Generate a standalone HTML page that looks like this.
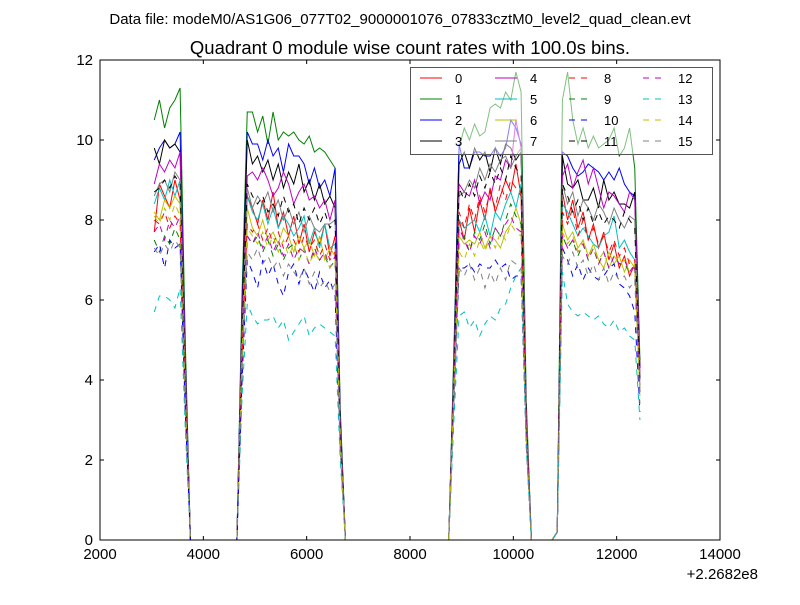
<!DOCTYPE html>
<html><head><meta charset="utf-8">
<style>
body{margin:0;background:#fff;}
svg text{font-family:"Liberation Sans","DejaVu Sans",sans-serif;}
</style></head>
<body>
<svg id="chart" width="800" height="600" xmlns="http://www.w3.org/2000/svg">
<rect x="0" y="0" width="800" height="600" fill="#fff"/>
<text x="400" y="24" font-size="15" text-anchor="middle">Data file: modeM0/AS1G06_077T02_9000001076_07833cztM0_level2_quad_clean.evt</text>
<text x="410" y="54" font-size="18.5" text-anchor="middle">Quadrant 0 module wise count rates with 100.0s bins.</text>
<g id="plot"></g>
</svg>
<script>
const tStart = 3050, binSize = 100;
const Z10=[0,0,0,0,0,0,0,0,0,0], Z20=[0,0,0,0,0,0,0,0,0,0,0,0,0,0,0,0,0,0,0,0,0], Z5=[0,0,0,0,0];
const s0=[7.7,8.9,8.6,8.3,9.0,8.5,3.8,...Z10,5.0,8.6,8.3,7.9,8.5,8.0,8.7,7.8,8.2,7.6,8.1,7.4,7.9,7.2,7.7,7.4,7.9,7.1,7.6,2.8,...Z20,4.2,8.0,7.5,8.3,7.7,8.5,8.0,8.8,8.2,8.6,9.0,8.7,9.4,8.6,2.6,...Z5,0.2,8.7,8.0,8.5,7.8,8.2,7.5,7.9,7.3,7.7,7.0,7.4,6.8,7.1,6.6,6.9,4.0];
const s1=[10.5,11.0,10.3,10.8,11.0,11.3,5.0,...Z10,6.2,10.7,10.7,10.2,10.6,9.9,10.7,10.0,10.2,10.1,10.2,10.0,9.9,10.1,9.7,9.8,9.7,9.5,9.3,3.3,...Z20,4.8,9.8,10.3,10.0,10.4,10.1,10.2,10.8,10.9,10.8,11.2,11.0,11.7,11.2,3.5,...Z5,0.2,11.0,11.7,10.5,9.9,10.3,9.8,10.1,9.8,9.9,10.0,10.3,9.6,9.8,10.3,9.3,4.5];
const s2=[9.5,9.8,10.0,9.8,9.9,10.2,4.6,...Z10,5.8,10.2,9.9,9.9,9.5,10.0,9.6,9.8,9.2,9.9,9.6,9.6,9.4,8.9,9.3,8.8,9.0,8.6,9.3,3.1,...Z20,4.5,9.9,9.3,9.3,9.7,9.7,9.6,9.6,9.8,9.6,9.8,10.5,10.3,9.9,3.1,...Z5,0.2,9.7,9.6,9.3,9.1,9.2,9.4,9.3,9.2,9.0,9.2,9.0,9.3,8.9,8.7,8.6,4.3];
const s3=[9.8,9.4,10.0,9.8,9.9,9.7,4.5,...Z10,5.6,10.0,9.4,9.6,9.2,9.5,9.0,9.4,8.8,9.2,8.9,9.4,8.7,9.0,8.5,8.9,8.4,8.6,8.3,3.0,...Z20,4.4,9.4,9.7,9.3,9.8,9.5,9.7,9.2,9.8,9.4,9.9,9.8,9.5,9.7,3.1,...Z5,0.2,9.6,8.9,8.8,9.0,8.5,8.5,8.8,8.3,9.0,8.5,8.7,8.4,8.4,8.3,8.7,4.3];
const s4=[8.9,9.4,9.2,9.5,9.3,9.7,4.4,...Z10,5.4,9.1,9.2,9.0,9.3,9.0,8.6,8.8,9.2,8.9,8.4,8.7,8.9,8.5,8.6,8.3,8.5,8.0,8.5,2.9,...Z20,4.3,8.9,8.7,8.6,9.0,8.4,8.7,8.5,9.1,9.0,9.5,9.3,10.5,9.8,3.2,...Z5,0.2,9.1,9.4,8.8,9.2,9.5,8.9,9.3,8.8,8.3,8.7,8.6,8.4,8.2,8.7,8.5,4.2];
const s5=[8.4,8.8,8.5,9.0,8.6,9.0,4.0,...Z10,5.0,8.6,8.2,8.0,8.4,7.9,8.3,7.8,8.1,7.9,7.6,7.8,8.1,7.4,7.8,7.3,7.9,7.3,7.4,2.7,...Z20,4.0,8.0,7.8,7.9,8.0,7.7,8.1,7.6,8.2,8.0,8.4,8.7,8.3,8.9,2.9,...Z5,0.2,8.4,8.2,7.9,7.6,7.8,7.6,7.4,7.3,7.6,7.7,8.1,7.3,7.5,7.2,7.0,3.8];
const s6=[8.2,8.0,8.5,8.3,8.6,8.4,3.8,...Z10,4.8,8.3,7.8,7.6,8.0,7.5,7.7,7.4,7.8,7.6,7.2,7.6,7.3,7.5,7.1,7.6,7.0,7.3,7.1,2.5,...Z20,3.8,7.6,7.4,7.5,7.4,7.7,7.3,7.6,7.5,7.3,7.7,7.9,8.3,7.9,2.7,...Z5,0.2,7.9,7.5,7.7,7.3,7.5,7.1,7.4,7.0,6.8,7.2,6.9,7.1,6.7,7.0,6.8,3.7];
const s7=[8.6,8.9,9.0,8.7,9.2,9.0,4.1,...Z10,5.2,8.8,8.3,8.6,8.4,8.7,8.2,8.5,8.0,8.3,7.9,8.2,7.7,8.1,7.8,7.7,7.9,7.9,8.0,2.8,...Z20,4.2,8.6,8.7,9.0,8.8,9.3,9.0,9.4,9.2,9.5,9.6,9.3,9.6,9.8,3.0,...Z5,0.2,8.9,8.4,8.7,8.1,8.5,8.3,8.0,8.4,8.2,7.9,8.3,8.0,7.8,8.1,8.0,4.0];
const s8=[8.0,7.9,8.2,7.8,8.1,7.9,3.6,...Z10,4.6,7.9,7.7,7.9,7.5,7.8,7.4,7.7,7.3,7.6,7.5,7.2,7.6,7.3,7.5,7.1,7.4,7.0,7.2,2.5,...Z20,3.9,8.2,7.8,8.4,8.0,8.6,8.2,8.7,8.3,8.9,8.5,9.0,8.8,8.6,2.8,...Z5,0.2,8.2,7.9,8.3,7.6,8.0,7.5,7.8,7.4,7.6,7.2,7.5,7.1,7.3,6.9,7.0,3.8];
const s9=[7.5,7.2,7.6,7.4,7.8,7.5,3.4,...Z10,4.4,7.6,7.4,7.6,7.2,7.5,7.1,7.4,7.0,7.3,7.4,7.0,7.3,6.9,7.2,7.0,7.1,6.8,7.0,2.4,...Z20,3.7,7.4,7.6,7.2,7.7,7.5,7.9,7.4,7.8,7.6,8.0,8.4,8.1,7.9,2.6,...Z5,0.2,7.6,7.3,7.5,7.1,7.4,7.0,7.3,6.9,7.2,6.8,7.1,6.9,6.9,6.7,6.8,3.6];
const s10=[7.2,7.4,6.8,7.5,7.3,7.4,3.2,...Z10,4.0,7.0,6.7,6.3,7.0,6.6,6.9,6.4,6.1,6.7,6.9,6.4,6.8,6.5,6.2,6.7,6.3,6.5,6.1,2.2,...Z20,3.4,6.8,6.8,6.9,6.7,6.9,6.8,6.8,7.0,6.8,6.9,6.5,6.6,6.6,2.4,...Z5,0.2,7.3,7.0,6.6,6.9,6.5,6.8,6.6,6.5,6.6,6.8,6.9,6.4,6.3,6.1,5.7,3.2];
const s11=[8.7,8.8,9.0,8.8,9.1,8.9,4.0,...Z10,5.0,8.9,8.6,8.4,8.6,8.2,8.4,8.1,8.6,8.2,8.4,7.9,8.3,8.0,8.3,7.9,8.2,7.8,8.0,2.7,...Z20,4.0,8.8,8.5,8.9,8.6,9.1,8.8,9.2,8.9,9.3,9.0,9.6,9.3,9.1,2.9,...Z5,0.2,8.9,8.6,8.2,8.5,8.0,8.3,7.9,8.2,7.9,8.1,8.0,7.8,8.2,8.0,7.8,4.0];
const s12=[7.7,7.9,7.5,8.0,7.8,8.1,3.5,...Z10,4.4,7.6,7.4,7.7,7.3,7.6,7.2,7.5,7.1,7.4,7.0,7.3,7.2,6.9,7.3,7.0,7.2,6.8,7.1,2.4,...Z20,3.7,7.8,7.5,7.2,7.6,7.4,7.7,7.3,7.8,7.6,7.9,8.1,7.8,7.7,2.6,...Z5,0.2,7.6,7.3,7.5,7.2,7.4,7.0,7.3,6.9,7.2,6.8,7.1,6.9,7.0,6.7,6.9,3.6];
const s13=[5.7,6.1,6.1,6.0,5.8,6.3,2.8,...Z10,3.6,5.9,5.6,5.4,5.5,5.5,5.6,5.3,5.5,5.0,5.2,5.4,5.6,5.1,5.3,5.4,5.3,5.2,5.1,2.0,...Z20,3.0,5.6,5.7,5.3,5.5,5.1,5.4,5.6,5.5,5.8,5.9,6.3,6.6,6.8,2.3,...Z5,0.2,6.7,5.9,5.7,5.6,5.7,5.6,5.5,5.6,5.4,5.3,5.5,5.2,5.3,5.1,5.0,3.0];
const s14=[8.1,7.9,8.3,8.0,8.4,8.1,3.7,...Z10,4.7,7.8,7.6,7.4,7.7,7.3,7.6,7.2,7.5,7.1,7.4,7.0,7.3,6.9,7.2,7.0,7.1,6.8,7.0,2.4,...Z20,3.7,7.2,7.0,7.4,7.1,7.5,7.2,7.6,7.3,7.7,7.5,7.9,7.7,7.6,2.6,...Z5,0.2,7.7,7.4,7.6,7.2,7.5,7.1,7.3,7.0,7.2,6.8,7.1,6.9,7.0,6.7,6.9,3.6];
const s15=[7.3,7.1,7.4,7.2,7.5,7.3,3.3,...Z10,4.2,7.2,7.0,7.3,6.9,7.1,6.8,7.0,6.6,6.9,6.7,6.5,6.8,6.4,6.7,6.3,6.5,6.2,6.4,2.2,...Z20,3.4,6.8,6.6,6.9,6.5,6.8,6.3,6.7,6.4,6.8,6.5,7.0,6.9,6.8,2.4,...Z5,0.2,7.1,6.9,7.2,6.8,7.0,6.6,6.9,6.5,6.8,6.4,6.7,6.5,6.6,6.3,6.5,3.4];
const seriesValues=[s0,s1,s2,s3,s4,s5,s6,s7,s8,s9,s10,s11,s12,s13,s14,s15];
const seriesLabels=["0","1","2","3","4","5","6","7","8","9","10","11","12","13","14","15"];
const xTicks=[2000,4000,6000,8000,10000,12000,14000];
const yTicks=[0,2,4,6,8,10,12];

const NS="http://www.w3.org/2000/svg";
const L=100,R=720,T=60,B=540, xMin=2000,xMax=14000,yMin=0,yMax=12;
const xs=v=>L+(v-xMin)/(xMax-xMin)*(R-L);
const ys=v=>B-(v-yMin)/(yMax-yMin)*(B-T);
const colors=["#ff0000","#008000","#0000ff","#000000","#bf00bf","#00bfbf","#bfbf00","#808080"];
const g=document.getElementById('plot');
function mk(tag,attrs,parent){const e=document.createElementNS(NS,tag);for(const k in attrs)e.setAttribute(k,attrs[k]);(parent||g).appendChild(e);return e;}

const lines=mk('g',{});


seriesValues.forEach((vals,si)=>{
  const pts=vals.map((v,i)=>xs(tStart+binSize*i).toFixed(2)+','+ys(v).toFixed(2)).join(' ');
  const p=mk('polyline',{points:pts,fill:'none',stroke:colors[si%8],'stroke-width':1,'stroke-dasharray':si>=8?'6,6':'none'},lines);
  
  
});

const frame=mk('rect',{x:L,y:T,width:R-L,height:B-T,fill:'none',stroke:'#000','stroke-width':1});



xTicks.forEach(t=>{
  const x=xs(t);
  mk('line',{x1:x,y1:B,x2:x,y2:B-4,stroke:'#000'});
  mk('line',{x1:x,y1:T,x2:x,y2:T+4,stroke:'#000'});
  const tx=mk('text',{x:x,y:B+19,'font-size':15,'text-anchor':'middle'});
  tx.textContent=t;
  
  
});
yTicks.forEach(t=>{
  const y=ys(t);
  mk('line',{x1:L,y1:y,x2:L+4,y2:y,stroke:'#000'});
  mk('line',{x1:R,y1:y,x2:R-4,y2:y,stroke:'#000'});
  const tx=mk('text',{x:L-7,y:y+5,'font-size':15,'text-anchor':'end'});
  tx.textContent=t;
  
  
});
const off=mk('text',{x:758,y:579,'font-size':15,'text-anchor':'end'});
off.textContent='+2.2682e8';



const leg=mk('g',{});


mk('rect',{x:410.5,y:67.5,width:302,height:87,fill:'#fff','fill-opacity':0.5,stroke:'#555','stroke-width':1},leg);
const colX=[420,495,569,643], rowY=[78,99,120,141];
seriesLabels.forEach((lab,si)=>{
  const c=Math.floor(si/4), r=si%4;
  const x=colX[c], y=rowY[r];
  const e=mk('g',{},leg);
  
  
  mk('line',{x1:x,y1:y,x2:x+22,y2:y,stroke:colors[si%8],'stroke-width':1,'stroke-dasharray':si>=8?'6,6':'none'},e);
  const t=mk('text',{x:x+35,y:y+5,'font-size':13},e);
  t.textContent=lab;
});
</script>
</body></html>
